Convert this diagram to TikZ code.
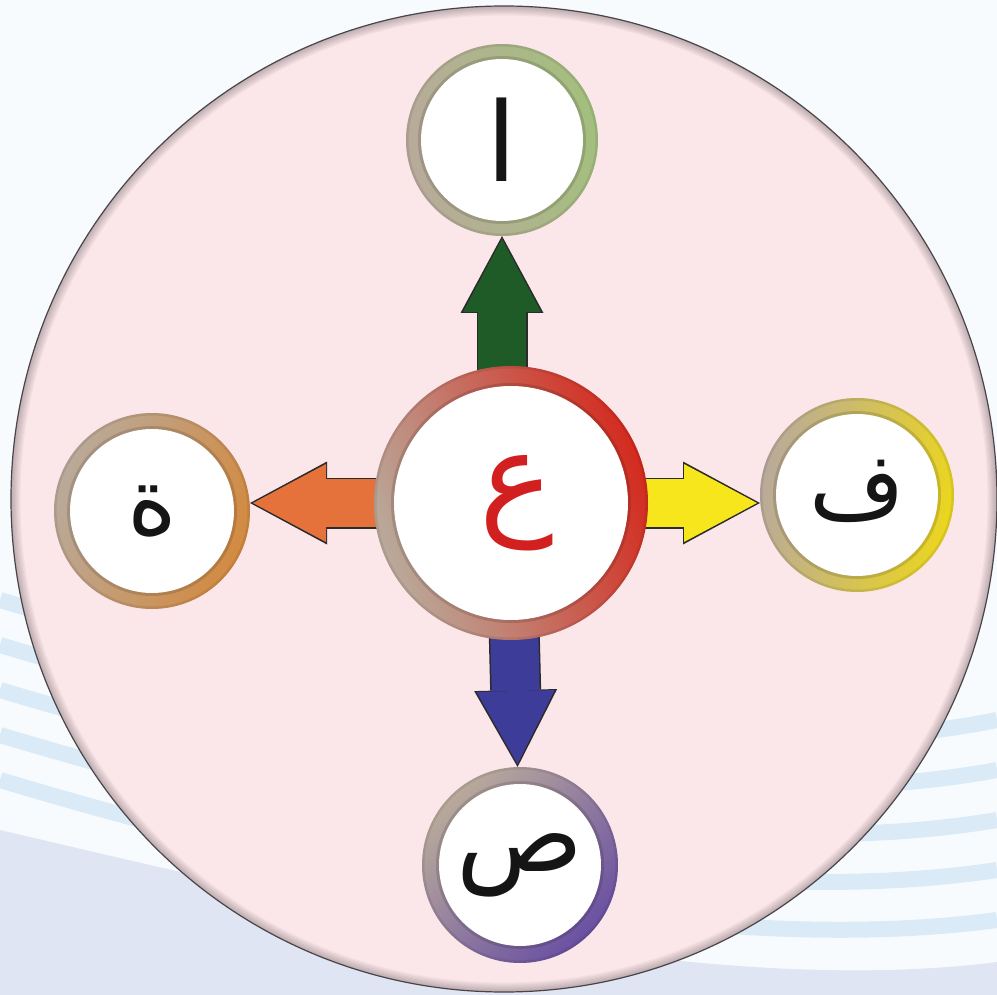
\documentclass[tikz,border=0pt]{standalone}
\usepackage{fontspec}
\newfontfamily\arabicfont[Script=Arabic]{DejaVu Sans}
\TeXXeTstate=1
\usetikzlibrary{arrows.meta}
\pgfdeclarelayer{bg}
\pgfsetlayers{bg,main}
\definecolor{sky}{HTML}{F7FBFD}
\definecolor{stripe}{HTML}{DAEAF6}
\definecolor{lav}{HTML}{E0E5F3}
\definecolor{discpink}{HTML}{FBE6EA}
\definecolor{discedge}{HTML}{4A4448}
\definecolor{ringtan}{HTML}{B9AA9B}
\definecolor{ringgreen}{HTML}{A3BF7E}
\definecolor{ringorange}{HTML}{D38A40}
\definecolor{ringyellow}{HTML}{EBD61E}
\definecolor{ringpurple}{HTML}{6A50A2}
\definecolor{ringred}{HTML}{D42A1E}
\definecolor{arrgreen}{HTML}{1E5B27}
\definecolor{arrorange}{HTML}{E5723A}
\definecolor{arryellow}{HTML}{F6E61B}
\definecolor{arrblue}{HTML}{3E3C99}
\definecolor{arredge}{HTML}{2B2B2B}
\definecolor{ink}{HTML}{151515}
\definecolor{ainred}{HTML}{D21F1F}
\begin{document}
\begin{tikzpicture}[x=1pt,y=-1pt,
  ball/.style n args={4}{circle, inner sep=0pt, outer sep=0pt, minimum size=#1,
    left color=ringtan, right color=#2, shading angle=#3,
    path picture={
      \fill[white] (path picture bounding box.center) circle (#4);
      \draw[black, opacity=0.13, line width=3pt] (path picture bounding box.center) circle (#4+1.5pt);
      \draw[black, opacity=0.08, line width=3pt] (path picture bounding box.center) circle (#1/2-1pt);
    }},
  lettertext/.style={font=\arabicfont\fontsize{#1}{#1}\selectfont, text=ink},
  arrowrim/.style={line width=51pt, draw=arredge, -{Triangle[length=77pt,width=83pt,line width=0pt]}},
  arrowbody/.style={line width=48pt, draw=#1, shorten >=3pt, -{Triangle[length=73pt,width=78pt,line width=0pt]}},
  disc/.style={circle, minimum size=986pt, inner sep=0pt, fill=discpink, draw=discedge, line width=1.2pt,
    path picture={\foreach \i in {1,...,8}{\draw[black,opacity=0.03,line width=\i*2.4pt] (path picture bounding box.center) circle (493pt);}}}
]
\useasboundingbox (0,0) rectangle (997,995);
\begin{pgfonlayer}{bg}
\fill[sky] (0,0) rectangle (997,995);
\foreach \k in {0,...,4}
  \draw[stripe, line width=16pt] (0,600+\k*45) .. controls (300,690+\k*45) and (700,780+\k*45) .. (997,720+\k*50);
\fill[lav] (0,830) .. controls (300,900) and (700,1000) .. (997,962) -- (997,995) -- (0,995) -- cycle;
\node[disc] (plate) at (504,499) {};
\end{pgfonlayer}

\node[ball={274pt}{ringred}{110}{117pt}, lettertext=125pt, text=ainred] (c) at (511,503) {\hspace{12pt}\raisebox{-5pt}{\beginR ع\endR}};
\node[ball={192pt}{ringgreen}{100}{81pt}, lettertext=110pt] (alif) at (502,140) {\beginR ا\endR};
\node[ball={196pt}{ringorange}{70}{82pt}, lettertext=95pt] (ta) at (152,511) {\beginR ة\endR};
\node[ball={194pt}{ringyellow}{80}{81pt}, lettertext=92pt] (fa) at (857,495) {\raisebox{12pt}{\beginR ف\endR}\hspace{10pt}};
\node[ball={196pt}{ringpurple}{45}{81pt}, lettertext=105pt] (sad) at (520,865) {\beginR ص\endR};

\begin{pgfonlayer}{bg}
\draw[arrowrim] (alif.south |- c.center) -- (alif.south);
\draw[arrowbody=arrgreen] (alif.south |- c.center) -- (alif.south);
\draw[arrowrim] (c.center) -- (c.center -| ta.east);
\draw[arrowbody=arrorange] (c.center) -- (c.center -| ta.east);
\draw[arrowrim] (c.center) -- (c.center -| fa.west);
\draw[arrowbody=arryellow] (c.center) -- (c.center -| fa.west);
\draw[arrowrim] (c.center) -- (sad);
\draw[arrowbody=arrblue] (c.center) -- (sad);
\end{pgfonlayer}
\end{tikzpicture}
\end{document}
